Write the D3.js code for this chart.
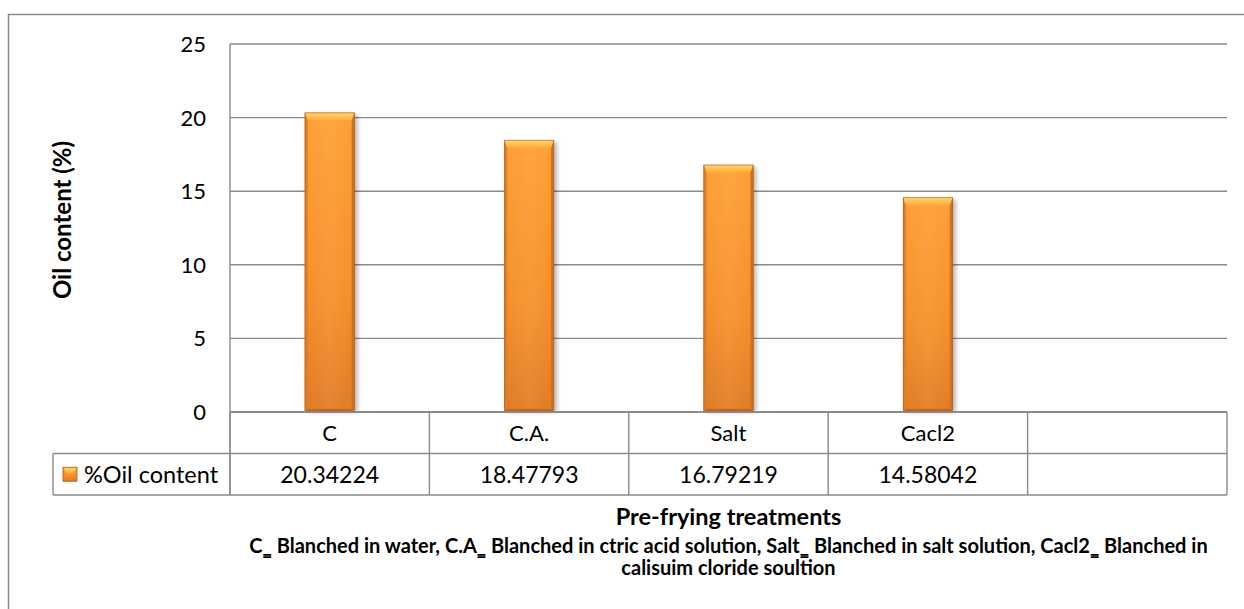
<!DOCTYPE html>
<html>
<head>
<meta charset="utf-8">
<script src="https://cdn.jsdelivr.net/npm/d3@7"></script>
<style>
  html, body { margin: 0; padding: 0; background: #fff; }
  svg { display: block; }
  text { font-family: Lato, "Liberation Sans", sans-serif; fill: #000; }
</style>
</head>
<body>
<svg id="chart" width="1244" height="609"></svg>
<script>
// Oil content by pre-frying treatment
const categories = ["C", "C.A.", "Salt", "Cacl2", ""];
const oilContent = [20.34224, 18.47793, 16.79219, 14.58042];
const valueLabels = ["20.34224", "18.47793", "16.79219", "14.58042", ""];
const yTicks = [0, 5, 10, 15, 20, 25];
const seriesName = "%Oil content";
const yTitle = "Oil content (%)";
const xTitle = "Pre-frying treatments";
const noteLines = [
  "C\u2017 Blanched in water, C.A\u2017 Blanched in ctric acid solution, Salt\u2017 Blanched in salt solution, Cacl2\u2017 Blanched in",
  "calisuim cloride soultion"
];

const svg = d3.select("#chart");
const gridColor = "#8a8a8a";

const plot = { left: 230, right: 1227, top: 44, bottom: 412 };
const rowH = 41.5;
const legendLeft = 53;

const x = d3.scaleBand().domain(d3.range(categories.length)).range([plot.left, plot.right]).paddingInner(0).paddingOuter(0);
const y = d3.scaleLinear().domain([0, 25]).range([plot.bottom, plot.top]);

// defs: gradients + shadow
const defs = svg.append("defs");
const body = defs.append("linearGradient").attr("id", "barBody").attr("x1", 0).attr("y1", 0).attr("x2", 0).attr("y2", 1);
body.append("stop").attr("offset", "0%").attr("stop-color", "#FF9E32");
body.append("stop").attr("offset", "60%").attr("stop-color", "#F58F28");
body.append("stop").attr("offset", "100%").attr("stop-color", "#E07A22");
const bodyH = defs.append("linearGradient").attr("id", "barSheen").attr("x1", 0).attr("y1", 0).attr("x2", 1).attr("y2", 0);
bodyH.append("stop").attr("offset", "0%").attr("stop-color", "#fff").attr("stop-opacity", 0);
bodyH.append("stop").attr("offset", "50%").attr("stop-color", "#fff").attr("stop-opacity", 0.08);
bodyH.append("stop").attr("offset", "100%").attr("stop-color", "#fff").attr("stop-opacity", 0);
const topG = defs.append("linearGradient").attr("id", "barTop").attr("x1", 0).attr("y1", 0).attr("x2", 0).attr("y2", 1);
topG.append("stop").attr("offset", "0%").attr("stop-color", "#FFD772");
topG.append("stop").attr("offset", "100%").attr("stop-color", "#FFAA3A");
const shadow = defs.append("filter").attr("id", "barShadow").attr("x", "-30%").attr("y", "-10%").attr("width", "160%").attr("height", "120%");
shadow.append("feGaussianBlur").attr("stdDeviation", 2.2);

// outer chart border (continues past the window)
svg.append("path")
  .attr("d", `M8.5,700 V14.5 H1300`)
  .attr("fill", "none").attr("stroke", gridColor).attr("stroke-width", 1.5);

// horizontal gridlines
svg.append("g").selectAll("line").data(yTicks).join("line")
  .attr("x1", plot.left).attr("x2", plot.right)
  .attr("y1", d => y(d)).attr("y2", d => y(d))
  .attr("stroke", gridColor).attr("stroke-width", 1.4);

// y axis line
svg.append("line")
  .attr("x1", plot.left).attr("x2", plot.left)
  .attr("y1", plot.top).attr("y2", plot.bottom + 2 * rowH)
  .attr("stroke", gridColor).attr("stroke-width", 1.4);

// y tick labels
svg.append("g").selectAll("text").data(yTicks).join("text")
  .attr("x", 206).attr("y", d => y(d))
  .attr("dy", "0.36em")
  .attr("text-anchor", "end")
  .style("font-size", "22px")
  .text(d => d);

// y axis title
svg.append("text")
  .attr("transform", `translate(71,220) rotate(-90)`)
  .attr("text-anchor", "middle")
  .style("font-size", "24px").style("font-weight", "bold")
  .text(yTitle);

// bars
const bw = x.bandwidth() / 4;
const bars = svg.append("g").selectAll("g").data(oilContent).join("g")
  .attr("transform", (d, i) => `translate(${x(i) + x.bandwidth() / 2 - bw / 2},0)`);

bars.append("rect")
  .attr("x", 3).attr("y", d => y(d) + 2)
  .attr("width", bw).attr("height", d => y(0) - y(d) - 2)
  .attr("fill", "#000").attr("opacity", 0.28)
  .attr("filter", "url(#barShadow)");
bars.append("rect")
  .attr("x", 0).attr("y", d => y(d))
  .attr("width", bw).attr("height", d => y(0) - y(d))
  .attr("fill", "url(#barBody)");
bars.append("rect")
  .attr("x", 0).attr("y", d => y(d))
  .attr("width", bw).attr("height", d => y(0) - y(d))
  .attr("fill", "url(#barSheen)");
// bevel: top
bars.append("path")
  .attr("d", d => {
    const t = y(d), b = 8, s = 3;
    return `M0,${t} H${bw} L${bw - s},${t + b} H${s} Z`;
  })
  .attr("fill", "url(#barTop)");
// bevel: left and right edges
bars.append("path")
  .attr("d", d => {
    const t = y(d), bot = y(0), s = 3;
    return `M0,${t} L${s},${t + 8} V${bot - 3} L0,${bot} Z`;
  })
  .attr("fill", "#DD7F28");
bars.append("path")
  .attr("d", d => {
    const t = y(d), bot = y(0), s = 3;
    return `M${bw},${t} L${bw - s},${t + 8} V${bot - 3} L${bw},${bot} Z`;
  })
  .attr("fill", "#CF7022");
// bevel: bottom
bars.append("path")
  .attr("d", d => {
    const bot = y(0), s = 3;
    return `M0,${bot} L${s},${bot - 3} H${bw - s} L${bw},${bot} Z`;
  })
  .attr("fill", "#C2641C");
bars.append("rect")
  .attr("x", 0.3).attr("y", d => y(d) + 0.3)
  .attr("width", bw - 0.6).attr("height", d => y(0) - y(d) - 0.6)
  .attr("fill", "none").attr("stroke", "#A9581A").attr("stroke-width", 0.8).attr("opacity", 0.7);

// x axis line redrawn above the bars
svg.append("line")
  .attr("x1", plot.left).attr("x2", plot.right)
  .attr("y1", plot.bottom).attr("y2", plot.bottom)
  .attr("stroke", gridColor).attr("stroke-width", 1.4);

// data table
const table = svg.append("g");
const rowLines = [
  { x1: plot.left, x2: plot.right, y: plot.bottom },
  { x1: legendLeft, x2: plot.right, y: plot.bottom + rowH },
  { x1: legendLeft, x2: plot.right, y: plot.bottom + 2 * rowH }
];
table.selectAll("line.h").data(rowLines).join("line").attr("class", "h")
  .attr("x1", d => d.x1).attr("x2", d => d.x2)
  .attr("y1", d => d.y).attr("y2", d => d.y)
  .attr("stroke", gridColor).attr("stroke-width", 1.4);
const colEdges = d3.range(categories.length + 1).map(i => i < categories.length ? x(i) : plot.right);
table.selectAll("line.v").data(colEdges).join("line").attr("class", "v")
  .attr("x1", d => d).attr("x2", d => d)
  .attr("y1", plot.bottom).attr("y2", plot.bottom + 2 * rowH)
  .attr("stroke", gridColor).attr("stroke-width", 1.4);
table.append("line")
  .attr("x1", legendLeft).attr("x2", legendLeft)
  .attr("y1", plot.bottom + rowH).attr("y2", plot.bottom + 2 * rowH)
  .attr("stroke", gridColor).attr("stroke-width", 1.4);

table.selectAll("text.cat").data(categories).join("text").attr("class", "cat")
  .attr("x", (d, i) => x(i) + x.bandwidth() / 2)
  .attr("y", plot.bottom + rowH / 2).attr("dy", "0.36em")
  .attr("text-anchor", "middle").style("font-size", "22px")
  .text(d => d);
table.selectAll("text.val").data(valueLabels).join("text").attr("class", "val")
  .attr("x", (d, i) => x(i) + x.bandwidth() / 2)
  .attr("y", plot.bottom + rowH * 1.5).attr("dy", "0.36em")
  .attr("text-anchor", "middle").style("font-size", "23px")
  .text(d => d);

// legend key in table
const keyY = plot.bottom + rowH * 1.5;
const key = table.append("g").attr("transform", `translate(63,${keyY - 7})`);
key.append("rect").attr("width", 14).attr("height", 14).attr("fill", "url(#barBody)");
key.append("path").attr("d", "M0,0 H14 L10.5,6 H3.5 Z").attr("fill", "url(#barTop)");
key.append("rect").attr("width", 14).attr("height", 14).attr("fill", "none").attr("stroke", "#A9581A").attr("stroke-width", 0.8);
table.append("text")
  .attr("x", 84).attr("y", keyY).attr("dy", "0.36em")
  .style("font-size", "23.5px")
  .text(seriesName);

// x axis title and note
const cx = (plot.left + plot.right) / 2;
svg.append("text")
  .attr("x", cx).attr("y", 525)
  .attr("text-anchor", "middle")
  .style("font-size", "23.5px").style("font-weight", "bold")
  .text(xTitle);
svg.append("g").selectAll("text").data(noteLines).join("text")
  .attr("x", cx)
  .attr("y", (d, i) => 553 + i * 22)
  .attr("text-anchor", "middle")
  .style("font-size", "20px").style("font-weight", "bold")
  .text(d => d);
</script>
</body>
</html>
